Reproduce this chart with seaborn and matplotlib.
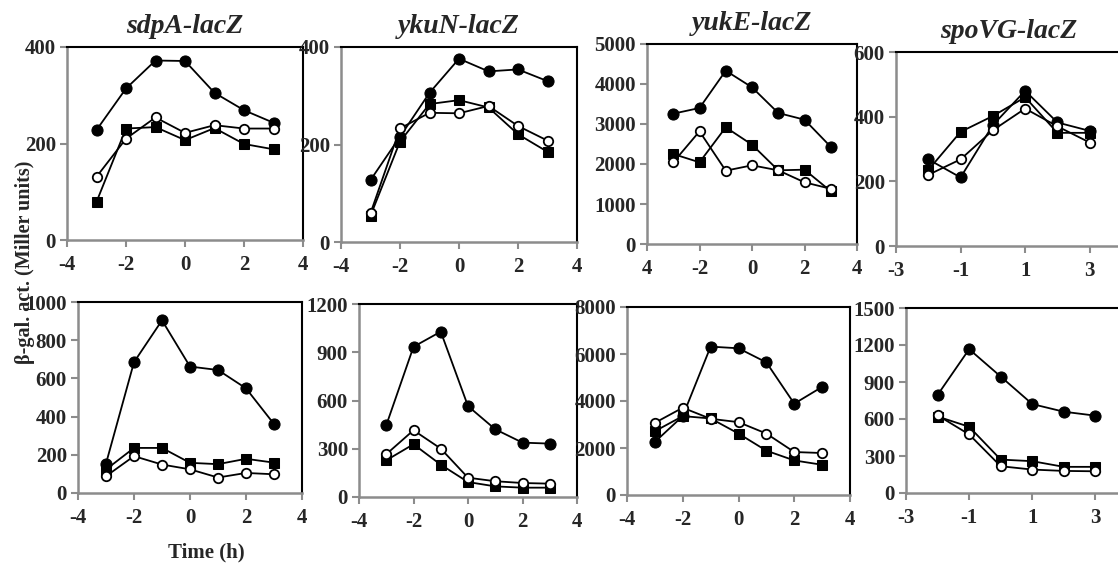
import numpy as np
import pandas as pd
import matplotlib
matplotlib.use("Agg")
import matplotlib.pyplot as plt
import seaborn as sns

# ---------------- data ----------------
time = [-3, -2, -1, 0, 1, 2, 3]
time_spovg = [-2, -1, 0, 1, 2, 3]

titles = ["sdpA-lacZ", "ykuN-lacZ", "yukE-lacZ", "spoVG-lacZ"]

# top row
sdpA_top_filled = [228, 314, 372, 371, 305, 269, 243]
sdpA_top_open = [131, 210, 254, 222, 238, 231, 231]
sdpA_top_square = [79, 231, 234, 207, 232, 199, 188]

ykuN_top_filled = [127, 216, 306, 376, 350, 354, 330]
ykuN_top_open = [59, 233, 265, 264, 279, 238, 208]
ykuN_top_square = [54, 206, 283, 291, 276, 221, 185]

yukE_top_filled = [3258, 3400, 4333, 3917, 3275, 3108, 2430]
yukE_top_open = [2042, 2817, 1833, 1967, 1842, 1542, 1380]
yukE_top_square = [2250, 2042, 2917, 2483, 1842, 1858, 1320]

spoVG_top_filled = [268, 212, 374, 480, 382, 356]
spoVG_top_open = [220, 268, 358, 425, 370, 320]
spoVG_top_square = [235, 353, 402, 460, 350, 350]

# bottom row
sdpA_bot_filled = [154, 685, 904, 662, 644, 548, 361]
sdpA_bot_open = [88, 193, 149, 124, 81, 105, 98]
sdpA_bot_square = [123, 236, 236, 158, 151, 179, 159]

ykuN_bot_filled = [446, 934, 1028, 565, 421, 338, 332]
ykuN_bot_open = [266, 415, 301, 120, 98, 87, 83]
ykuN_bot_square = [228, 328, 201, 93, 66, 58, 58]

yukE_bot_filled = [2257, 3357, 6314, 6243, 5643, 3886, 4600]
yukE_bot_open = [3071, 3714, 3243, 3100, 2614, 1829, 1786]
yukE_bot_square = [2714, 3357, 3257, 2614, 1886, 1471, 1286]

spoVG_bot_filled = [795, 1166, 944, 721, 659, 627]
spoVG_bot_open = [630, 475, 217, 190, 179, 176]
spoVG_bot_square = [620, 537, 271, 258, 212, 212]

x_ticks_main = [-4, -2, 0, 2, 4]
x_ticklabels_main = ["-4", "-2", "0", "2", "4"]
x_ticklabels_yukE_top = ["4", "-2", "0", "2", "4"]
x_ticks_spovg = [-3, -1, 1, 3]
x_ticklabels_spovg = ["-3", "-1", "1", "3"]

y_ticks_top = [
    [0, 200, 400],
    [0, 200, 400],
    [0, 1000, 2000, 3000, 4000, 5000],
    [0, 200, 400, 600],
]
y_ticks_bot = [
    [0, 200, 400, 600, 800, 1000],
    [0, 300, 600, 900, 1200],
    [0, 2000, 4000, 6000, 8000],
    [0, 300, 600, 900, 1200, 1500],
]

y_label = "β-gal. act. (Miller units)"
x_label = "Time (h)"

# ---------------- style ----------------
sns.set_style("white")
plt.rcParams["font.family"] = ["Liberation Serif", "DejaVu Serif"]
plt.rcParams["font.weight"] = "bold"

W, H = 1118, 566
fig = plt.figure(figsize=(W / 100, H / 100), dpi=100)

def add_ax(l, r, t, b):
    return fig.add_axes([l / W, (H - b) / H, (r - l) / W, (b - t) / H])

# pixel rectangles (left, right, top, bottom)
rects = [
    (67, 303, 47, 240), (341, 577, 47, 242), (647, 857, 44, 244), (896, 1122, 52, 246),
    (78, 302, 302, 493), (359, 577, 304, 497), (627, 850, 307, 495), (906, 1127, 308, 493),
]

panels = [
    (time, sdpA_top_filled, sdpA_top_open, sdpA_top_square),
    (time, ykuN_top_filled, ykuN_top_open, ykuN_top_square),
    (time, yukE_top_filled, yukE_top_open, yukE_top_square),
    (time_spovg, spoVG_top_filled, spoVG_top_open, spoVG_top_square),
    (time, sdpA_bot_filled, sdpA_bot_open, sdpA_bot_square),
    (time, ykuN_bot_filled, ykuN_bot_open, ykuN_bot_square),
    (time, yukE_bot_filled, yukE_bot_open, yukE_bot_square),
    (time_spovg, spoVG_bot_filled, spoVG_bot_open, spoVG_bot_square),
]
yticks_all = y_ticks_top + y_ticks_bot

gray = "#8c8c8c"
for i, (rect, (tx, yf, yo, ys)) in enumerate(zip(rects, panels)):
    ax = add_ax(*rect)
    ax.set_facecolor("none")
    df = pd.DataFrame({"time": tx, "filled": yf, "open": yo, "square": ys})
    line_kw = dict(color="black", linewidth=1.3, ax=ax, legend=False)
    sns.lineplot(data=df, x="time", y="filled", marker="o", markersize=8,
                 markerfacecolor="black", markeredgecolor="black", **line_kw)
    sns.lineplot(data=df, x="time", y="square", marker="s", markersize=7.5,
                 markerfacecolor="black", markeredgecolor="black", **line_kw)
    sns.lineplot(data=df, x="time", y="open", marker="o", markersize=6.8,
                 markerfacecolor="white", markeredgecolor="black",
                 markeredgewidth=1.3, **line_kw)
    col = i % 4
    yt = yticks_all[i]
    ax.set_ylim(0, yt[-1])
    ax.set_yticks(yt)
    ax.set_yticklabels([str(v) for v in yt])
    if col == 3:
        ax.set_xlim(-3, 4)
        ax.set_xticks(x_ticks_spovg)
        ax.set_xticklabels(x_ticklabels_spovg)
    else:
        ax.set_xlim(-4, 4)
        ax.set_xticks(x_ticks_main)
        if i == 2:
            ax.set_xticklabels(x_ticklabels_yukE_top)
        else:
            ax.set_xticklabels(x_ticklabels_main)
    ax.set_xlabel("")
    ax.set_ylabel("")
    for s in ["left", "bottom"]:
        ax.spines[s].set_color(gray)
        ax.spines[s].set_linewidth(1.8)
    for s in ["top", "right"]:
        ax.spines[s].set_color("black")
        ax.spines[s].set_linewidth(1.5)
        ax.spines[s].set_visible(True)
    ax.tick_params(axis="both", which="major", direction="out", length=5,
                   width=1.5, color=gray, labelsize=15, pad=3,
                   left=True, bottom=True)
    ax.tick_params(axis="x", pad=6)
    for lab in ax.get_xticklabels() + ax.get_yticklabels():
        lab.set_fontweight("bold")
    if i < 4:
        ax.set_title(titles[i], fontsize=20, fontweight="bold", style="italic", pad=10)

fig.text(25 / W, 1 - 262 / H, y_label, rotation=90, ha="center", va="center",
         fontsize=14.5, fontweight="bold")
fig.text(206 / W, 1 - 552 / H, x_label, ha="center", va="center",
         fontsize=15, fontweight="bold")

fig.savefig("out.png", dpi=100)
